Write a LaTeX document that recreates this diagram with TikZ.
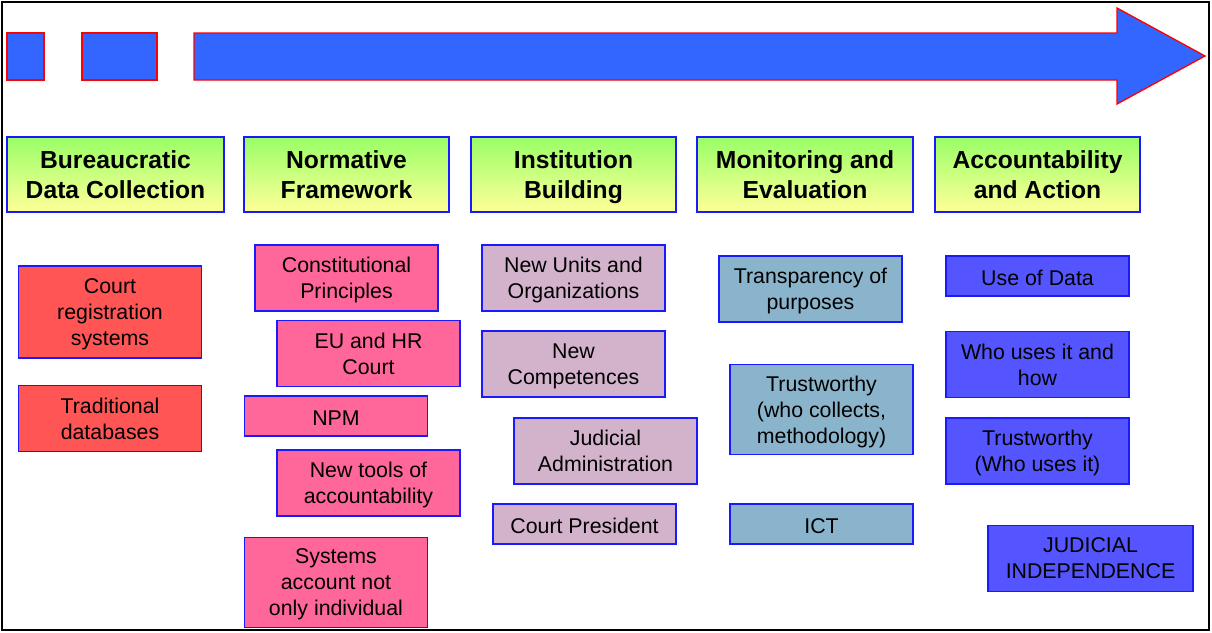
\documentclass[tikz,border=0pt]{standalone}
\usepackage{fontspec}
\setmainfont{Liberation Sans}
\usepackage{tikz}
\usetikzlibrary{positioning}
\definecolor{flowblue}{HTML}{3366FF}
\definecolor{edgeblue}{HTML}{1A1AFF}
\definecolor{headtop}{HTML}{99FF66}
\definecolor{headbot}{HTML}{FFFF99}
\definecolor{datared}{HTML}{FF5555}
\definecolor{normpink}{HTML}{FF6699}
\definecolor{instlilac}{HTML}{D3B3CC}
\definecolor{monsteel}{HTML}{8AB4CC}
\definecolor{actblue}{HTML}{5555FF}

\begin{document}
\begin{tikzpicture}[x=0.75pt, y=-0.75pt,
    % same vertical placement of text whatever the letters
    boxtext/.style={text depth=0pt, execute at begin node={\rule{0pt}{0.85em}}},
    stage/.style={boxtext, draw=edgeblue, line width=0.9pt, top color=headtop, bottom color=headbot,
                  minimum height=56.25pt, minimum width=153.75pt, align=center, inner sep=2pt,
                  font=\fontsize{18.5}{22.5}\selectfont\bfseries},
    item/.style={boxtext, draw=edgeblue, line width=0.9pt, minimum width=137.25pt, inner sep=2pt,
                 align=center, font=\fontsize{16}{19.5}\selectfont},
    collect/.style={item, fill=datared},
    norm/.style={item, fill=normpink},
    inst/.style={item, fill=instlilac},
    monit/.style={item, fill=monsteel},
    act/.style={item, fill=actblue}
  ]
  \useasboundingbox (0,0) rectangle (1212,632);
  \draw[line width=1.5pt] (2,2) rectangle (1209,630);

  % time line
  \draw[red, line width=1pt, fill=flowblue] (7,33) rectangle (44,80);
  \draw[red, line width=1pt, fill=flowblue] (82,33) rectangle (157,80);
  \draw[red, line width=1pt, fill=flowblue, line join=miter]
    (194,33) -- (1117,33) -- (1117,8) -- (1205,56) -- (1117,104) -- (1117,80) -- (194,80) -- cycle;

  % stages
  \node[stage, minimum width=162.75pt] (s1) at (115.5,174.5) {Bureaucratic\\Data Collection};
  \node[stage] (s2) at (346.5,174.5) {Normative\\Framework};
  \node[stage] (s3) at (573.5,174.5) {Institution\\Building};
  \node[stage, minimum width=162pt] (s4) at (805,174.5) {Monitoring and\\Evaluation};
  \node[stage] (s5) at (1037.5,174.5) {Accountability\\and Action};

  % data collection
  \node[collect, minimum height=69pt] (crs) at (110,312) {Court\\registration\\systems};
  \node[collect, minimum height=50pt] (tdb) at (110,418.5) {Traditional\\databases};

  % normative framework
  \node[norm, minimum height=49.5pt] (cp)    at (346.5,278)   {Constitutional\\Principles};
  \node[norm, minimum height=49pt]   (euhr)  at (368.5,353.5) {EU and HR\\Court};
  \node[norm, minimum height=30pt]   (npm)   at (336,416)     {NPM};
  \node[norm, minimum height=49.5pt] (tools) at (368.5,483)   {New tools of\\accountability};
  \node[norm, minimum height=68pt]   (sys)   at (336,582.5)   {Systems\\account not\\only individual};

  % institution building
  \node[inst, minimum height=49.5pt] (units) at (573.5,278) {New Units and\\Organizations};
  \node[inst, minimum height=49.5pt] (comp)  at (573.5,364) {New\\Competences};
  \node[inst, minimum height=49.5pt] (jadm)  at (605.5,451) {Judicial\\Administration};
  \node[inst, minimum height=30pt]   (cpres) at (584.5,524) {Court President};

  % monitoring
  \node[monit, minimum height=49.5pt] (transp) at (810.5,289)   {Transparency of\\purposes};
  \node[monit, minimum height=68pt]   (trust)  at (821.5,409.5) {Trustworthy\\(who collects,\\methodology)};
  \node[monit, minimum height=30pt]   (ict)    at (821.5,524)   {ICT};

  % accountability
  \node[act, minimum height=30pt]   (use)    at (1037.5,276)   {Use of Data};
  \node[act, minimum height=49pt]   (who)    at (1037.5,364.5) {Who uses it and\\how};
  \node[act, minimum height=49.5pt] (trustu) at (1037.5,451)   {Trustworthy\\(Who uses it)};
  \node[act, minimum height=49pt, minimum width=153.75pt] (jind) at (1090.5,558.5) {JUDICIAL\\INDEPENDENCE};
\end{tikzpicture}
\end{document}
